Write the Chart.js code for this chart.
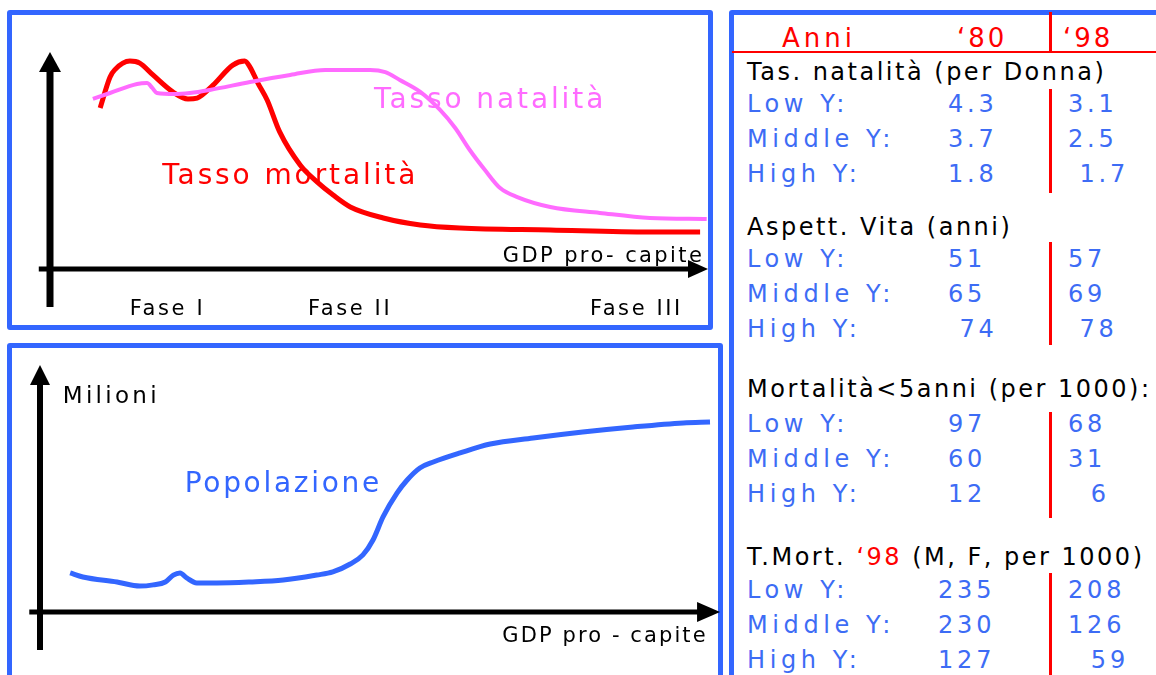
<!DOCTYPE html>
<html lang="it">
<head>
<meta charset="utf-8">
<title>Transizione demografica</title>
<script src="https://cdn.jsdelivr.net/npm/chart.js@4.4.1/dist/chart.umd.min.js"></script>
<style>
  html, body { margin: 0; padding: 0; background: #fff; }
  body { width: 1156px; height: 675px; overflow: hidden; position: relative; font-family: "DejaVu Sans", Verdana, sans-serif; }
  .panel { position: absolute; border: 5px solid #3366ff; border-radius: 3px; box-sizing: border-box; }
  canvas { position: absolute; }
  .txt { position: absolute; white-space: pre; }
  .red-line { position: absolute; background: #ff0000; }
</style>
</head>
<body>
<div class="panel" style="left:7px; top:10px; width:706px; height:320px;"></div>
<div class="panel" style="left:7px; top:343px; width:716px; height:400px;"></div>
<div class="panel" style="left:729px; top:10px; width:500px; height:700px;"></div>
<canvas id="ratesChart" width="720" height="335" style="left:0; top:0;"></canvas>
<canvas id="popChart" width="725" height="335" style="left:0; top:340px;"></canvas>
<div id="tabella"></div>
<script>
// Tassi (scala indice 0-100) rispetto al GDP pro-capite (indice 0-100)
const natalitaX = [6.5, 9.1, 13.2, 14.7, 15.5, 16.2, 18.9, 21.2, 24.2, 30.3, 36.4, 41.7, 48.5, 50.8, 53.0, 56.1, 59.1, 61.4, 63.6, 65.9, 68.2, 70.8, 75.8, 83.3, 90.9, 99.5];
const natalitaY = [77.3, 80.0, 84.1, 84.5, 82.3, 80.0, 79.5, 80.0, 81.4, 85.0, 88.2, 90.5, 90.5, 89.5, 85.9, 80.5, 72.3, 64.1, 54.1, 45.0, 36.8, 32.7, 28.2, 25.5, 23.2, 22.7];
const mortalitaX = [7.6, 9.1, 9.8, 12.1, 13.6, 15.6, 18.6, 20.9, 22.3, 24.7, 27.7, 29.5, 30.3, 31.5, 32.9, 34.8, 37.9, 40.5, 42.9, 45.5, 50.5, 56.1, 62.1, 75.8, 90.9, 98.5];
const mortalitaY = [73.2, 87.3, 90.5, 94.5, 93.6, 88.2, 80.5, 77.3, 77.7, 83.6, 92.7, 94.5, 91.8, 84.5, 76.8, 62.3, 47.3, 39.5, 33.6, 28.2, 23.2, 20.0, 18.6, 17.7, 16.8, 16.8];

// Popolazione (milioni, indice) rispetto al GDP pro-capite
const popolazioneX = [4.5, 6.4, 11.5, 14.9, 16.9, 18.7, 19.9, 20.9, 21.9, 23.4, 26.4, 31.3, 36.3, 41.3, 43.7, 46.3, 48.2, 49.7, 51.2, 53.3, 54.8, 56.7, 58.7, 62.7, 67.2, 73.6, 81.0, 88.5, 96.0, 100];
const popolazioneY = [16.3, 14.6, 12.5, 10.8, 11.3, 12.5, 15.4, 16.3, 14.2, 12.1, 12.1, 12.5, 13.3, 15.4, 16.7, 20.0, 23.8, 30.0, 39.6, 49.6, 55.0, 60.0, 62.5, 66.3, 70.0, 72.5, 75.0, 77.1, 78.8, 79.2];

const fasi = ['Fase I', 'Fase II', 'Fase III'];
const fasiX = [12.1, 39.1, 81.8];

// Tabella
const righe = ['Low Y:', 'Middle Y:', 'High Y:'];
const natalita80 = ['4.3', '3.7', '1.8'];
const natalita98 = ['3.1', '2.5', ' 1.7'];
const vita80 = ['51', '65', ' 74'];
const vita98 = ['57', '69', ' 78'];
const mort5anni80 = ['97', '60', '12'];
const mort5anni98 = ['68', '31', '  6'];
const mortM98 = ['235', '230', '127'];
const mortF98 = ['208', '126', '  59'];

const BLU = '#3366ff';
const BLU_TESTO = '#3d6cf5';
const ROSSO = '#ff0000';
const ROSA = '#ff6bff';
const FONT = '"DejaVu Sans", Verdana, sans-serif';

const pts = (xs, ys) => xs.map((x, i) => ({ x: x, y: ys[i] }));

// Frecce degli assi + etichette
const frecce = {
    id: 'frecce',
    afterDatasetsDraw(chart, args, cfg) {
        const ctx = chart.ctx;
        const xs = chart.scales.x, ys = chart.scales.y;
        const x0 = xs.getPixelForValue(0), y0 = ys.getPixelForValue(0);
        ctx.save();
        ctx.fillStyle = '#000';
        ctx.strokeStyle = '#000';

        // asse verticale
        const yTip = ys.getPixelForValue(cfg.yTip);
        ctx.lineWidth = cfg.vWidth;
        ctx.beginPath();
        ctx.moveTo(x0, ys.getPixelForValue(cfg.yStart));
        ctx.lineTo(x0, yTip + cfg.vHead - 1);
        ctx.stroke();
        ctx.beginPath();
        ctx.moveTo(x0, yTip);
        ctx.lineTo(x0 - cfg.vHalf, yTip + cfg.vHead);
        ctx.lineTo(x0 + cfg.vHalf, yTip + cfg.vHead);
        ctx.closePath();
        ctx.fill();

        // asse orizzontale
        const xTip = xs.getPixelForValue(cfg.xTip);
        ctx.lineWidth = cfg.hWidth;
        ctx.beginPath();
        ctx.moveTo(xs.getPixelForValue(cfg.xStart), y0);
        ctx.lineTo(xTip - cfg.hHead + 1, y0);
        ctx.stroke();
        ctx.beginPath();
        ctx.moveTo(xTip, y0);
        ctx.lineTo(xTip - cfg.hHead, y0 - cfg.hHalf);
        ctx.lineTo(xTip - cfg.hHead, y0 + cfg.hHalf);
        ctx.closePath();
        ctx.fill();

        // etichette
        ctx.textBaseline = 'alphabetic';
        ctx.textAlign = 'left';
        cfg.labels.forEach(l => {
            ctx.font = l.size + 'px ' + FONT;
            ctx.letterSpacing = l.spacing + 'px';
            ctx.fillStyle = l.color;
            ctx.fillText(l.text, xs.getPixelForValue(l.x), ys.getPixelForValue(l.y));
        });
        ctx.restore();
    }
};

function creaGrafico(id, datasets, padding, cfg) {
    return new Chart(document.getElementById(id), {
        type: 'scatter',
        data: { datasets: datasets },
        options: {
            responsive: false,
            animation: false,
            layout: { padding: padding },
            scales: {
                x: { type: 'linear', min: 0, max: 100, display: false },
                y: { type: 'linear', min: 0, max: 100, display: false }
            },
            plugins: {
                legend: { display: false },
                tooltip: { enabled: false },
                frecce: cfg
            }
        },
        plugins: [frecce]
    });
}

function linea(data, colore, spessore) {
    return {
        data: data,
        showLine: true,
        borderColor: colore,
        backgroundColor: colore,
        borderWidth: spessore,
        pointRadius: 0,
        cubicInterpolationMode: 'monotone',
        borderCapStyle: 'butt',
        borderJoinStyle: 'round',
        clip: false
    };
}

// Grafico dei tassi
creaGrafico('ratesChart', [
    linea(pts(natalitaX, natalitaY), ROSA, 4),
    linea(pts(mortalitaX, mortalitaY), ROSSO, 5)
], { left: 50, right: 10, top: 49, bottom: 66 }, {
    yStart: -17.3, yTip: 98.6, vWidth: 7, vHead: 20, vHalf: 11,
    xStart: -1.7, xTip: 99.7, hWidth: 5, hHead: 20, hHalf: 9,
    labels: [
        { text: 'Tasso natalità', x: 49.1, y: 73.2, size: 28, spacing: 2.9, color: ROSA },
        { text: 'Tasso mortalità', x: 17.0, y: 38.6, size: 28, spacing: 2.9, color: ROSSO },
        { text: 'GDP pro- capite', x: 68.6, y: 3.2, size: 21, spacing: 2.4, color: '#000' }
    ].concat(fasi.map((f, i) => ({ text: f, x: fasiX[i], y: -20.9, size: 21, spacing: 2.6, color: '#000' })))
});

// Grafico della popolazione
creaGrafico('popChart', [
    linea(pts(popolazioneX, popolazioneY), BLU, 5)
], { left: 40, right: 15, top: 32, bottom: 63 }, {
    yStart: -15.8, yTip: 102.9, vWidth: 6, vHead: 20, vHalf: 10,
    xStart: -1.6, xTip: 101.5, hWidth: 5, hHead: 23, hHalf: 10,
    labels: [
        { text: 'Milioni', x: 3.4, y: 87.1, size: 23, spacing: 3.3, color: '#000' },
        { text: 'Popolazione', x: 21.6, y: 50, size: 28, spacing: 2.7, color: BLU },
        { text: 'GDP pro - capite', x: 69.0, y: -12.5, size: 21, spacing: 2.1, color: '#000' }
    ]
});

// Tabella a destra
const tab = document.getElementById('tabella');

function testo(parti, x, baseline, size, spacing) {
    const el = document.createElement('div');
    el.className = 'txt';
    el.style.left = x + 'px';
    el.style.top = (baseline - 0.846 * size) + 'px';
    el.style.fontSize = size + 'px';
    el.style.lineHeight = size + 'px';
    el.style.letterSpacing = spacing + 'px';
    parti.forEach(p => {
        const s = document.createElement('span');
        s.textContent = p[0];
        s.style.color = p[1];
        el.appendChild(s);
    });
    tab.appendChild(el);
}

function rigaRossa(x, y, w, h) {
    const el = document.createElement('div');
    el.className = 'red-line';
    el.style.left = x + 'px';
    el.style.top = y + 'px';
    el.style.width = w + 'px';
    el.style.height = h + 'px';
    tab.appendChild(el);
}

testo([['Anni', ROSSO]], 782, 47, 26, 4);
testo([['‘80', ROSSO]], 957, 47, 26, 3);
testo([['‘98', ROSSO]], 1063, 47, 26, 3);
rigaRossa(732, 51, 424, 2);
rigaRossa(1049, 12, 3, 40);

const sezioni = [
    { titolo: [['Tas. natalità (per Donna)', '#000']], base: 80, col1: 948, v1: natalita80, v2: natalita98, linea: [89, 193] },
    { titolo: [['Aspett. Vita (anni)', '#000']], base: 235, col1: 948, v1: vita80, v2: vita98, linea: [242, 345] },
    { titolo: [['Mortalità<5anni (per 1000):', '#000']], base: 397, col1: 948, v1: mort5anni80, v2: mort5anni98, linea: [412, 518] },
    { titolo: [['T.Mort. ', '#000'], ['‘98', ROSSO], [' (M, F, per 1000)', '#000']], base: 565, col1: 938, v1: mortM98, v2: mortF98, linea: [573, 680] }
];
const primaRiga = [112, 267, 432, 598];

sezioni.forEach((s, k) => {
    testo(s.titolo, 747, s.base, 24, 2.5);
    righe.forEach((r, i) => {
        const b = primaRiga[k] + i * 35;
        testo([[r, BLU_TESTO]], 747, b, 24, 4.6);
        testo([[s.v1[i], BLU_TESTO]], s.col1, b, 24, 3.8);
        testo([[s.v2[i], BLU_TESTO]], 1068, b, 24, 3.8);
    });
    rigaRossa(1049, s.linea[0], 3, s.linea[1] - s.linea[0]);
});
</script>
</body>
</html>
